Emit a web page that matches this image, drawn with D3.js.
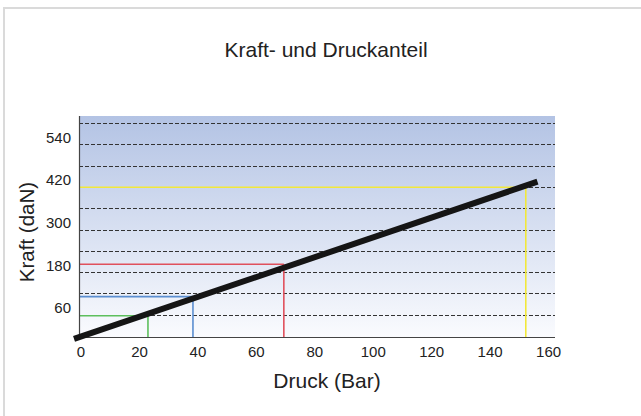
<!DOCTYPE html>
<html>
<head>
<meta charset="utf-8">
<script src="https://cdn.jsdelivr.net/npm/d3@7"></script>
<style>
html,body{margin:0;padding:0;background:#fff;}
svg{display:block;}
text{font-family:"Liberation Sans",Arial,sans-serif;fill:#222;}
</style>
</head>
<body>
<svg id="chart" width="641" height="416"></svg>
<script>
// ---- data ----
const title = "Kraft- und Druckanteil";
const xLabel = "Druck (Bar)";
const yLabel = "Kraft (daN)";
const xTicks = [0, 20, 40, 60, 80, 100, 120, 140, 160];
const yTickLabels = [60, 180, 300, 420, 540];
const yGrid = [60, 120, 180, 240, 300, 360, 420, 480, 540, 600];
const lineDruck = [-2.4, 156.2];
const lineKraft = [-8, 435];
const refDruck = [22.9, 38.3, 69.4, 152.2];
const refKraft = [57, 111, 202, 419];
const refColors = ["#5dbf5d", "#5b8ed0", "#e0505c", "#f2e83a"];

// ---- layout ----
const svg = d3.select("#chart");
const L = 79, R = 555, T = 116, B = 337;
const x = d3.scaleLinear().domain([-0.7, 162.2]).range([L, R]);
const y = d3.scaleLinear().domain([0, 620]).range([336, T]);

// frame
svg.append("rect").attr("x", 3).attr("y", 7).attr("width", 638).attr("height", 2).attr("fill", "#dadada");
svg.append("rect").attr("x", 3).attr("y", 7).attr("width", 2).attr("height", 409).attr("fill", "#dadada");

// gradient background
const defs = svg.append("defs");
const grad = defs.append("linearGradient").attr("id", "bg").attr("x1", 0).attr("y1", 0).attr("x2", 0).attr("y2", 1);
grad.append("stop").attr("offset", "0%").attr("stop-color", "#b3c3e4");
grad.append("stop").attr("offset", "100%").attr("stop-color", "#fafbfe");
svg.append("rect").attr("x", L).attr("y", T).attr("width", R - L).attr("height", B - T).attr("fill", "url(#bg)");

// grid
svg.append("g").selectAll("line").data(yGrid).join("line")
  .attr("x1", L).attr("x2", R)
  .attr("y1", d => Math.round(y(d)) + 0.5).attr("y2", d => Math.round(y(d)) + 0.5)
  .attr("stroke", "#333").attr("stroke-width", 1).attr("stroke-dasharray", "4,2");

// reference lines
const refs = refDruck.map((d, i) => ({d, k: refKraft[i], c: refColors[i]}));
const rg = svg.append("g");
rg.selectAll("line.h").data(refs).join("line").attr("class", "h")
  .attr("x1", L).attr("x2", r => x(r.d))
  .attr("y1", r => y(r.k)).attr("y2", r => y(r.k))
  .attr("stroke", r => r.c).attr("stroke-width", 1.6);
rg.selectAll("line.v").data(refs).join("line").attr("class", "v")
  .attr("x1", r => x(r.d)).attr("x2", r => x(r.d))
  .attr("y1", r => y(r.k)).attr("y2", B)
  .attr("stroke", r => r.c).attr("stroke-width", 1.6);

// axes lines
svg.append("line").attr("x1", L + 0.5).attr("x2", L + 0.5).attr("y1", T).attr("y2", B).attr("stroke", "#444").attr("stroke-width", 1.2);
svg.append("line").attr("x1", L).attr("x2", R).attr("y1", B + 0.5).attr("y2", B + 0.5).attr("stroke", "#444").attr("stroke-width", 1.2);

// main line
const pts = lineDruck.map((d, i) => [d, lineKraft[i]]);
svg.append("path")
  .attr("d", d3.line().x(p => x(p[0])).y(p => y(p[1]))(pts))
  .attr("stroke", "#151515").attr("stroke-width", 6).attr("fill", "none");

// tick labels
svg.append("g").selectAll("text").data(xTicks).join("text")
  .attr("x", d => x(d)).attr("y", 357)
  .attr("text-anchor", "middle").attr("font-size", 15).text(d => d);
svg.append("g").selectAll("text").data(yTickLabels).join("text")
  .attr("x", 71).attr("y", d => y(d) - 1.5)
  .attr("text-anchor", "end").attr("font-size", 15).text(d => d);

// titles
svg.append("text").attr("x", 326).attr("y", 57).attr("text-anchor", "middle").attr("font-size", 21).text(title);
svg.append("text").attr("x", 327).attr("y", 388).attr("text-anchor", "middle").attr("font-size", 21).text(xLabel);
svg.append("text").attr("transform", "translate(34,232) rotate(-90)").attr("text-anchor", "middle").attr("font-size", 20.5).text(yLabel);
</script>
</body>
</html>
